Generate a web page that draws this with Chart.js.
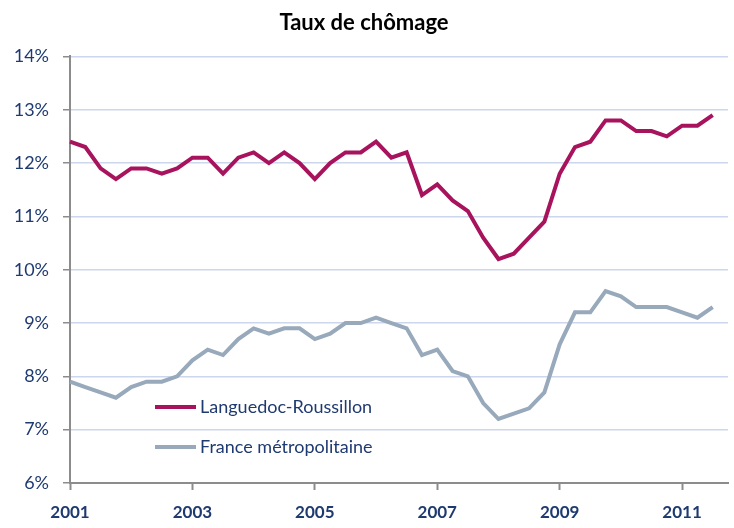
<!DOCTYPE html>
<html>
<head>
<meta charset="utf-8">
<script src="https://cdn.jsdelivr.net/npm/chart.js@4/dist/chart.umd.min.js"></script>
<style>
  html, body { margin: 0; padding: 0; background: #fff; }
  #wrap { width: 734px; height: 528px; }
</style>
</head>
<body>
<div id="wrap"><canvas id="chomage"></canvas></div>
<script>
// Trimestres 2001 T1 -> 2011 T4 (le dernier est vide)
const annees = [2001, 2002, 2003, 2004, 2005, 2006, 2007, 2008, 2009, 2010, 2011];
const trimestres = [];
annees.forEach(a => { for (let t = 1; t <= 4; t++) trimestres.push(a + ' T' + t); });

// Valeurs (%)
const languedoc = [12.4, 12.3, 11.9, 11.7, 11.9, 11.9, 11.8, 11.9, 12.1, 12.1, 11.8, 12.1,
  12.2, 12.0, 12.2, 12.0, 11.7, 12.0, 12.2, 12.2, 12.4, 12.1, 12.2, 11.4,
  11.6, 11.3, 11.1, 10.6, 10.2, 10.3, 10.6, 10.9, 11.8, 12.3, 12.4, 12.8,
  12.8, 12.6, 12.6, 12.5, 12.7, 12.7, 12.9, null];
const france = [7.9, 7.8, 7.7, 7.6, 7.8, 7.9, 7.9, 8.0, 8.3, 8.5, 8.4, 8.7,
  8.9, 8.8, 8.9, 8.9, 8.7, 8.8, 9.0, 9.0, 9.1, 9.0, 8.9, 8.4,
  8.5, 8.1, 8.0, 7.5, 7.2, 7.3, 7.4, 7.7, 8.6, 9.2, 9.2, 9.6,
  9.5, 9.3, 9.3, 9.3, 9.2, 9.1, 9.3, null];

const couleurLR = '#A8135D';
const couleurFR = '#97A9BA';
const bleuTexte = '#1F3A70';
const gris = '#8C8C8C';
const police = 'Lato, "Open Sans", sans-serif';

// Légende dessinée dans la zone du graphique
const legendeInterne = {
  id: 'legendeInterne',
  afterDraw(chart) {
    const ctx = chart.ctx;
    const items = [
      { label: 'Languedoc-Roussillon', color: couleurLR, y: 407 },
      { label: 'France métropolitaine', color: couleurFR, y: 447 }
    ];
    ctx.save();
    ctx.font = '18px ' + police;
    ctx.textBaseline = 'middle';
    items.forEach(it => {
      ctx.strokeStyle = it.color;
      ctx.lineWidth = 4;
      ctx.beginPath();
      ctx.moveTo(155, it.y);
      ctx.lineTo(196, it.y);
      ctx.stroke();
      ctx.fillStyle = bleuTexte;
      ctx.fillText(it.label, 200, it.y);
    });
    ctx.restore();
  }
};

new Chart(document.getElementById('chomage'), {
  type: 'line',
  data: {
    labels: trimestres,
    datasets: [
      { label: 'Languedoc-Roussillon', data: languedoc, borderColor: couleurLR, borderWidth: 4, pointRadius: 0, tension: 0 },
      { label: 'France métropolitaine', data: france, borderColor: couleurFR, borderWidth: 4, pointRadius: 0, tension: 0 }
    ]
  },
  options: {
    responsive: true,
    maintainAspectRatio: false,
    animation: false,
    layout: { padding: { left: 0, right: 6, top: 0, bottom: 0 } },
    plugins: {
      legend: { display: false },
      tooltip: { enabled: false },
      title: {
        display: true,
        text: 'Taux de chômage',
        color: '#000',
        font: { family: police, size: 22, weight: 'bold' },
        padding: { top: 10, bottom: 20 }
      }
    },
    scales: {
      x: {
        offset: false,
        grid: {
          drawOnChartArea: false,
          tickLength: 7,
          tickColor: ctx => (ctx.index % 8 === 0 ? gris : 'rgba(0,0,0,0)'),
          tickWidth: 2
        },
        border: { color: gris, width: 2 },
        ticks: {
          autoSkip: false,
          maxRotation: 0,
          padding: 12,
          color: bleuTexte,
          font: { family: police, size: 17, weight: 'bold' },
          callback: (v, i) => (i % 8 === 0 ? String(annees[i / 4]) : '')
        },
        afterFit: s => { s.height = 45; s.paddingLeft = 0; s.paddingRight = 0; }
      },
      y: {
        min: 6,
        max: 14,
        ticks: {
          stepSize: 1,
          padding: 14,
          color: bleuTexte,
          font: { family: police, size: 18 },
          callback: v => v + '%'
        },
        grid: { color: '#CCD6EC', lineWidth: 1.5, tickColor: gris, tickLength: 7 },
        border: { color: gris, width: 2 },
        afterFit: s => { s.width = 70; }
      }
    }
  },
  plugins: [legendeInterne]
});
</script>
</body>
</html>
